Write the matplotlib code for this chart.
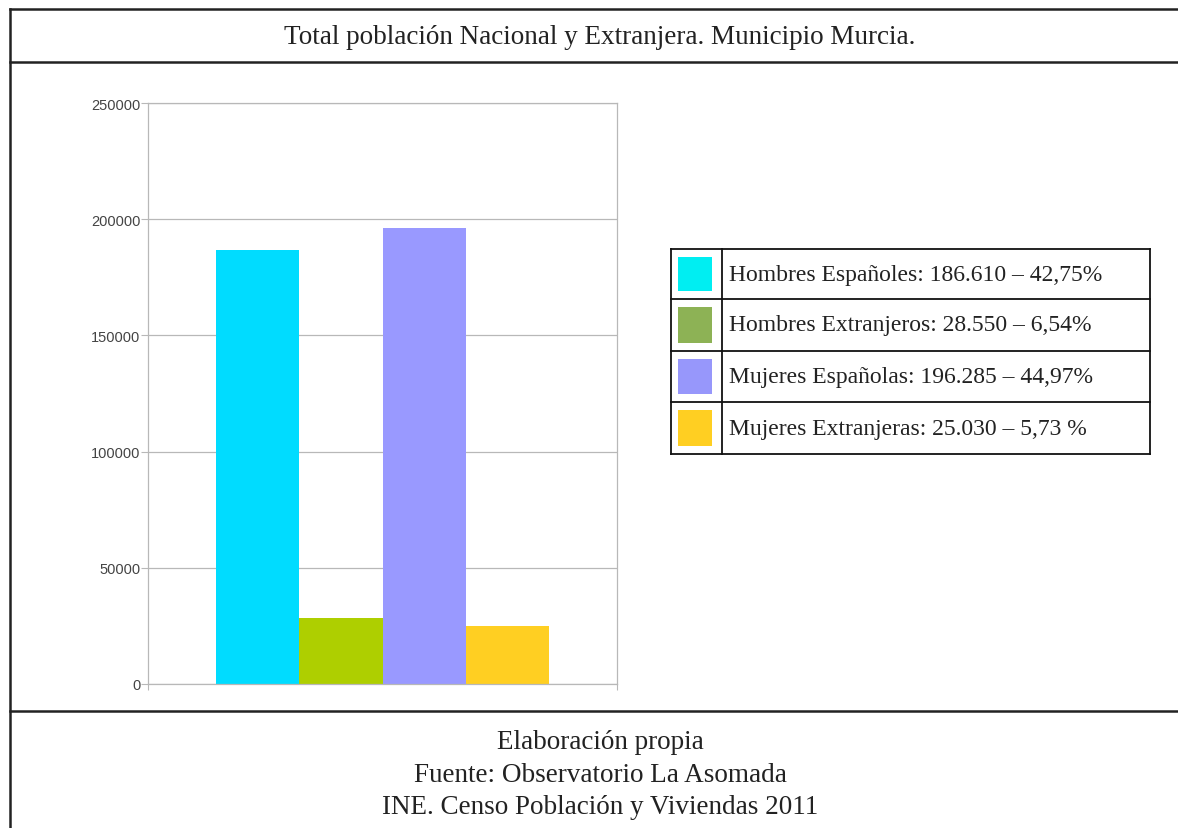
import matplotlib
matplotlib.use('Agg')
import matplotlib.pyplot as plt
from matplotlib.lines import Line2D
from matplotlib.patches import Rectangle
import numpy as np

# Datos del gráfico
categorias = ['Hombres Españoles', 'Hombres Extranjeros', 'Mujeres Españolas', 'Mujeres Extranjeras']
valores = [186610, 28550, 196285, 25030]
textos_leyenda = ['Hombres Españoles: 186.610 – 42,75%',
                  'Hombres Extranjeros: 28.550 – 6,54%',
                  'Mujeres Españolas: 196.285 – 44,97%',
                  'Mujeres Extranjeras: 25.030 – 5,73 %']
colores_barras = ['#00DCFF', '#AECF00', '#9999FF', '#FFCF22']
colores_leyenda = ['#00EEF2', '#8DB255', '#9797FB', '#FFCF22']
ticks_y = [0, 50000, 100000, 150000, 200000, 250000]
titulo = 'Total población Nacional y Extranjera. Municipio Murcia.'
pie = ['Elaboración propia', 'Fuente: Observatorio La Asomada', 'INE. Censo Población y Viviendas 2011']

W, H = 1178, 829
fig = plt.figure(figsize=(W / 100, H / 100), dpi=100)
fig.patch.set_facecolor('white')


def fx(px):
    return px / W


def fy(py):
    return 1 - py / H


# Marco exterior
for (x0, y0, x1, y1) in [(10, 10, W, 10), (10, 10, 10, H), (10, 63, W, 63), (10, 712, W, 712)]:
    fig.add_artist(Line2D([fx(x0), fx(x1)], [fy(y0), fy(y1)], color='#222222', lw=1.8,
                          transform=fig.transFigure))

serif = ['Liberation Serif', 'DejaVu Serif']
fig.text(fx(600), fy(38), titulo, ha='center', va='center', fontsize=19.5, family=serif,
         color='#222222')

# Gráfico de barras
ax = fig.add_axes([fx(148), fy(685), fx(617) - fx(148), fy(104) - fy(685)])
pos = np.arange(len(valores)) - 1.5
ax.bar(pos, valores, width=1.0, color=colores_barras, zorder=2)
ax.set_xlim(-2.825, 2.825)
ax.set_ylim(0, 250000)
ax.set_yticks(ticks_y)
ax.set_yticklabels([str(t) for t in ticks_y])
ax.set_xticks([-2.825, 2.825])
ax.set_xticklabels(['', ''])
ax.yaxis.grid(True, color='#b8b8b8', lw=0.9, zorder=0)
for s in ax.spines.values():
    s.set_color('#b8b8b8')
    s.set_linewidth(0.9)
ax.tick_params(axis='y', length=5, color='#b8b8b8', labelsize=10.5, labelcolor='#444444', pad=0.5)
ax.tick_params(axis='x', length=4, color='#b8b8b8')
for lab in ax.get_yticklabels():
    lab.set_family(['Liberation Sans', 'DejaVu Sans'])

# Leyenda en forma de tabla
filas = [250, 300, 352, 403, 455]
lx0, lx1, ldiv = 671, 1150, 722
for i, (txt, c) in enumerate(zip(textos_leyenda, colores_leyenda)):
    y0, y1 = filas[i], filas[i + 1]
    fig.add_artist(Rectangle((fx(678), fy(y1 - 8)), fx(712) - fx(678), fy(y0 + 8) - fy(y1 - 8),
                             facecolor=c, edgecolor='none', transform=fig.transFigure))
    fig.text(fx(729), fy((y0 + y1) / 2), txt, ha='left', va='center', fontsize=17,
             family=serif, color='#222222')
for y in filas:
    fig.add_artist(Line2D([fx(lx0), fx(lx1)], [fy(y), fy(y)], color='#111111', lw=1.3,
                          transform=fig.transFigure))
for x in (lx0, ldiv, lx1):
    fig.add_artist(Line2D([fx(x), fx(x)], [fy(filas[0]), fy(filas[-1])], color='#111111', lw=1.3,
                          transform=fig.transFigure))

# Pie del gráfico
for i, linea in enumerate(pie):
    fig.text(fx(600), fy(743 + 32.5 * i), linea, ha='center', va='center', fontsize=19.5,
             family=serif, color='#222222')

plt.savefig('out.png', dpi=100)
